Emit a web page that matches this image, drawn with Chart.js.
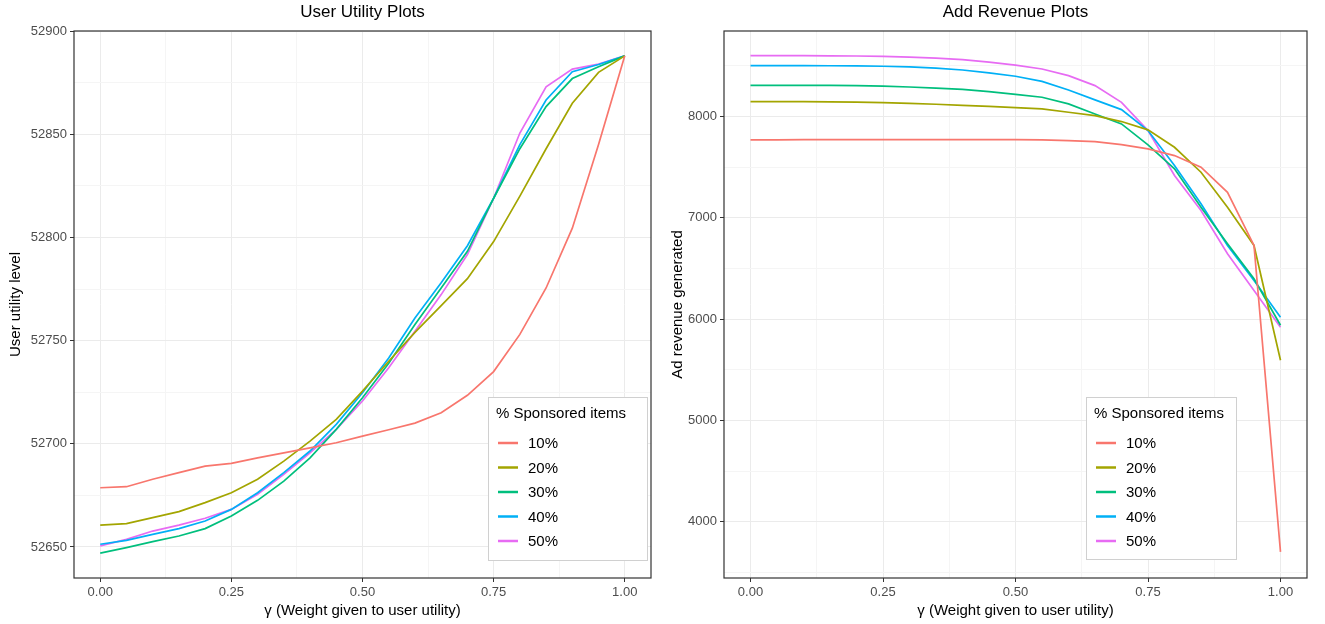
<!DOCTYPE html>
<html>
<head>
<meta charset="utf-8">
<script src="https://cdn.jsdelivr.net/npm/chart.js@4.4.1/dist/chart.umd.min.js"></script>
<style>
  body { margin: 0; background: #fff; }
  #wrap { display: flex; width: 1325px; height: 624px; }
  canvas { display: block; }
</style>
</head>
<body>
<div id="wrap">
  <canvas id="utilidade" width="662" height="624"></canvas>
  <canvas id="receita" width="663" height="624"></canvas>
</div>
<script>
const gama = [0, 0.05, 0.1, 0.15, 0.2, 0.25, 0.3, 0.35, 0.4, 0.45, 0.5, 0.55, 0.6, 0.65, 0.7, 0.75, 0.8, 0.85, 0.9, 0.95, 1.0];
const series = ['10%', '20%', '30%', '40%', '50%'];
const cores = ['#F8766D', '#A3A500', '#00BF7D', '#00B0F6', '#E76BF3'];

// user utility
const util10 = [52678.7, 52679.2, 52682.8, 52686, 52689.2, 52690.5, 52693.2, 52695.6, 52698, 52700.5, 52703.7, 52706.8, 52710, 52715, 52723.5, 52735, 52753, 52775.5, 52804.5, 52845, 52888];
const util20 = [52660.6, 52661.3, 52664.2, 52667.1, 52671.5, 52676.3, 52682.8, 52691.6, 52701.3, 52711.8, 52725.5, 52740, 52754, 52767, 52780, 52798, 52820, 52843, 52865, 52880, 52888];
const util30 = [52647, 52649.7, 52652.6, 52655.3, 52658.9, 52665, 52672.6, 52681.9, 52693.2, 52707, 52722.3, 52739, 52757.8, 52775.5, 52793.3, 52819, 52843, 52863.4, 52877, 52882.7, 52888];
const util40 = [52651.3, 52653.2, 52656.1, 52658.9, 52662.6, 52668.2, 52676.3, 52686, 52696.5, 52709.4, 52724.7, 52741.6, 52761, 52778, 52796, 52819, 52845, 52866.6, 52880.3, 52883.8, 52888];
const util50 = [52650.5, 52653.7, 52657.7, 52660.6, 52663.9, 52668.2, 52675.5, 52685.2, 52695.6, 52707, 52720.7, 52736.8, 52754.5, 52772.3, 52791.7, 52819, 52850.6, 52873, 52881.6, 52884, 52888];

// ad revenue
const rev10 = [7770, 7771, 7772, 7772, 7772, 7772, 7772, 7772, 7772, 7772, 7772, 7770, 7763, 7753, 7724, 7681, 7615, 7500, 7253, 6728, 3703];
const rev20 = [8148, 8148, 8147, 8146, 8143, 8138, 8131, 8122, 8111, 8100, 8088, 8076, 8043, 8010, 7951, 7869, 7697, 7451, 7106, 6728, 5594];
const rev30 = [8309, 8309, 8309, 8308, 8305, 8300, 8292, 8282, 8268, 8247, 8220, 8191, 8125, 8026, 7928, 7720, 7484, 7106, 6745, 6399, 5940];
const rev40 = [8503, 8503, 8503, 8502, 8500, 8497, 8490, 8478, 8460, 8432, 8398, 8348, 8263, 8165, 8069, 7862, 7517, 7139, 6728, 6383, 6020];
const rev50 = [8602, 8602, 8601, 8600, 8598, 8595, 8588, 8578, 8562, 8538, 8508, 8470, 8404, 8306, 8141, 7862, 7418, 7073, 6646, 6284, 5920];

const xMaior = [0, 0.25, 0.5, 0.75, 1];
const xMenor = [0.125, 0.375, 0.625, 0.875];
const utilMaior = [52650, 52700, 52750, 52800, 52850, 52900];
const utilMenor = [52675, 52725, 52775, 52825, 52875];
const revMaior = [4000, 5000, 6000, 7000, 8000];
const revMenor = [3500, 4500, 5500, 6500, 7500, 8500];

const fonte = '"Liberation Sans", Arial, sans-serif';
Chart.defaults.font.family = fonte;

// frame, title centred over the panel, and the legend box inside the panel
const moldura = {
  id: 'moldura',
  afterDatasetsDraw(chart, args, opts) {
    const { ctx, chartArea: a } = chart;
    ctx.save();
    ctx.strokeStyle = '#333333';
    ctx.lineWidth = 1.2;
    ctx.strokeRect(a.left, a.top, a.right - a.left, a.bottom - a.top);

    ctx.fillStyle = '#000';
    ctx.font = '17px ' + fonte;
    ctx.textAlign = 'center';
    ctx.textBaseline = 'middle';
    ctx.fillText(opts.titulo, (a.left + a.right) / 2, 12);

    const L = opts.caixa;
    ctx.textAlign = 'left';
    ctx.fillStyle = '#ffffff';
    ctx.fillRect(L.x, L.y, L.w, L.h);
    ctx.strokeStyle = '#D0D0D0';
    ctx.lineWidth = 1;
    ctx.strokeRect(L.x + 0.5, L.y + 0.5, L.w, L.h);
    ctx.fillStyle = '#000';
    ctx.font = '15px ' + fonte;
    ctx.fillText('% Sponsored items', L.x + 8, L.y + 17);
    chart.data.datasets.forEach((d, i) => {
      const yy = L.y + 46 + i * 24.5;
      ctx.strokeStyle = d.borderColor;
      ctx.lineWidth = 2.5;
      ctx.beginPath();
      ctx.moveTo(L.x + 10, yy);
      ctx.lineTo(L.x + 30, yy);
      ctx.stroke();
      ctx.fillStyle = '#000';
      ctx.fillText(d.label, L.x + 40, yy + 1);
    });
    ctx.restore();
  }
};

function montarDatasets(listas) {
  return listas.map((vals, i) => ({
    label: series[i],
    data: gama.map((g, k) => ({ x: g, y: vals[k] })),
    borderColor: cores[i],
    backgroundColor: cores[i],
    borderWidth: 1.7,
    pointRadius: 0,
    tension: 0,
    fill: false
  }));
}

function corGrade(maiores) {
  return c => (c.tick && maiores.includes(c.tick.value)) ? '#EBEBEB' : '#F5F5F5';
}
function corTick(maiores) {
  return c => (c.tick && maiores.includes(c.tick.value)) ? '#333333' : 'rgba(0,0,0,0)';
}

function eixoX() {
  return {
    type: 'linear',
    min: -0.05,
    max: 1.05,
    afterBuildTicks: s => { s.ticks = [...xMaior, ...xMenor].sort((a, b) => a - b).map(v => ({ value: v })); },
    afterFit: s => { s.height = 46; },
    ticks: {
      autoSkip: false, maxRotation: 0, color: '#4D4D4D', font: { size: 13 }, padding: 3,
      callback: v => xMaior.includes(v) ? v.toFixed(2) : ''
    },
    grid: { color: corGrade(xMaior), tickColor: corTick(xMaior), tickLength: 4, lineWidth: 1 },
    border: { display: false },
    title: { display: true, text: 'γ (Weight given to user utility)', color: '#000', font: { size: 15 }, padding: { top: 0, bottom: 4 } }
  };
}

function eixoY(min, max, maiores, menores, largura, titulo) {
  return {
    type: 'linear',
    min: min,
    max: max,
    afterBuildTicks: s => { s.ticks = [...maiores, ...menores].sort((a, b) => a - b).map(v => ({ value: v })); },
    afterFit: s => { s.width = largura; },
    ticks: {
      autoSkip: false, color: '#4D4D4D', font: { size: 13 }, padding: 3,
      callback: v => maiores.includes(v) ? String(v) : ''
    },
    grid: { color: corGrade(maiores), tickColor: corTick(maiores), tickLength: 4, lineWidth: 1 },
    border: { display: false },
    title: { display: true, text: titulo, color: '#000', font: { size: 15 }, padding: { top: 7, bottom: 0 } }
  };
}

function opcoes(titulo, eixoVertical, caixa, direita) {
  return {
    responsive: false,
    animation: false,
    layout: { padding: { left: 0, right: direita, top: 31, bottom: 0 } },
    plugins: {
      legend: { display: false },
      tooltip: { enabled: false },
      title: { display: false },
      moldura: { caixa: caixa, titulo: titulo }
    },
    scales: { x: eixoX(), y: eixoVertical }
  };
}

new Chart(document.getElementById('utilidade'), {
  type: 'line',
  data: { datasets: montarDatasets([util10, util20, util30, util40, util50]) },
  options: opcoes('User Utility Plots',
    eixoY(52634.95, 52900.05, utilMaior, utilMenor, 74, 'User utility level'),
    { x: 488, y: 397, w: 159, h: 163 }, 11),
  plugins: [moldura]
});

new Chart(document.getElementById('receita'), {
  type: 'line',
  data: { datasets: montarDatasets([rev10, rev20, rev30, rev40, rev50]) },
  options: opcoes('Add Revenue Plots',
    eixoY(3445, 8845, revMaior, revMenor, 62, 'Ad revenue generated'),
    { x: 424, y: 397, w: 150, h: 162 }, 18),
  plugins: [moldura]
});
</script>
</body>
</html>
